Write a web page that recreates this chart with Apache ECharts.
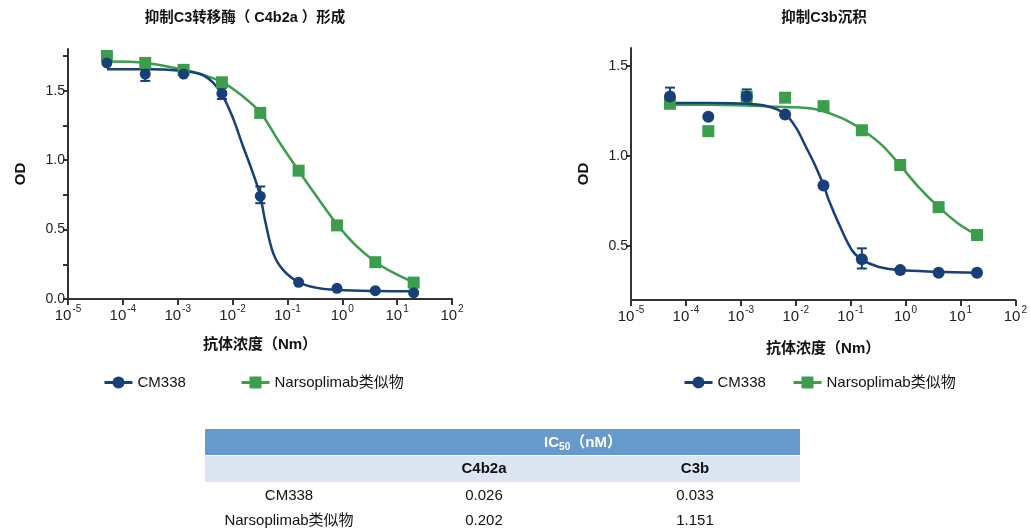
<!DOCTYPE html>
<html>
<head>
<meta charset="utf-8">
<script src="https://cdn.jsdelivr.net/npm/echarts@6/dist/echarts.min.js"></script>
<style>
html,body{margin:0;padding:0;background:#fff;}
#chart{width:1030px;height:530px;}
</style>
</head>
<body>
<div id="chart"></div>
<script>
// ---------- data ----------
const concentrations = [5.12e-5, 2.56e-4, 1.28e-3, 6.4e-3, 0.032, 0.16, 0.8, 4, 20];

const c4b2aCM338 = [1.70, 1.62, 1.62, 1.48, 0.74, 0.12, 0.077, 0.06, 0.045];
const c4b2aNarso = [1.75, 1.70, 1.65, 1.56, 1.34, 0.924, 0.53, 0.265, 0.118];
const c3bCM338 = [1.33, 1.218, 1.33, 1.23, 0.836, 0.426, 0.366, 0.351, 0.351];
const c3bNarso = [1.29, 1.138, 1.33, 1.324, 1.277, 1.143, 0.95, 0.716, 0.561];

// error bars: [concentration, low, high]
const c4b2aCM338Err = [[2.56e-4, 1.57, 1.67], [6.4e-3, 1.44, 1.52], [0.032, 0.69, 0.81]];
const c4b2aNarsoErr = [[2.56e-4, 1.68, 1.73]];
const c3bCM338Err = [[5.12e-5, 1.27, 1.38], [1.28e-3, 1.30, 1.37], [0.16, 0.375, 0.487]];

// fitted curves (log10 concentration, OD)
const c4b2aCM338CurveExp = [-4.29, -3.5, -3.0, -2.59, -2.36, -2.19, -2.0, -1.81, -1.65, -1.50, -1.41, -1.26, -1.08, -0.79, -0.46, -0.08, 0.61, 1.31];
const c4b2aCM338CurveVal = [1.655, 1.655, 1.645, 1.62, 1.56, 1.47, 1.31, 1.10, 0.93, 0.75, 0.57, 0.33, 0.21, 0.12, 0.08, 0.065, 0.057, 0.055];
const c4b2aNarsoCurveExp = [-4.29, -3.58, -2.89, -2.59, -2.18, -1.85, -1.49, -1.15, -0.79, -0.47, -0.08, 0.26, 0.61, 0.93, 1.31];
const c4b2aNarsoCurveVal = [1.71, 1.70, 1.65, 1.62, 1.56, 1.47, 1.34, 1.13, 0.92, 0.74, 0.53, 0.38, 0.265, 0.19, 0.118];
const c3bCM338CurveExp = [-4.29, -3.58, -2.89, -2.5, -2.2, -2.0, -1.82, -1.65, -1.49, -1.40, -1.22, -0.98, -0.80, -0.5, -0.1, 0.59, 1.30];
const c3bCM338CurveVal = [1.295, 1.295, 1.29, 1.275, 1.235, 1.16, 1.054, 0.95, 0.835, 0.757, 0.627, 0.478, 0.426, 0.385, 0.366, 0.357, 0.351];
const c3bNarsoCurveExp = [-4.29, -3.58, -2.89, -2.2, -1.64, -1.16, -0.80, -0.44, -0.11, 0.23, 0.59, 0.95, 1.30];
const c3bNarsoCurveVal = [1.285, 1.285, 1.28, 1.272, 1.26, 1.21, 1.147, 1.063, 0.952, 0.83, 0.72, 0.627, 0.561];

// tick labels
const xTickExponents = [-5, -4, -3, -2, -1, 0, 1, 2];
const leftYTicks = [0, 0.25, 0.5, 0.75, 1.0, 1.25, 1.5, 1.75];
const leftYLabels = [0, 0.5, 1.0, 1.5];
const rightYLabels = [0.5, 1.0, 1.5];

// texts
const titles = ['抑制C3转移酶（ C4b2a ）形成', '抑制C3b沉积'];
const seriesNames = ['CM338', 'Narsoplimab类似物'];
const xName = '抗体浓度（Nm）';
const yName = 'OD';

// table
const tableCols = ['C4b2a', 'C3b'];
const tableRowNames = ['CM338', 'Narsoplimab类似物'];
const ic50C4b2a = ['0.026', '0.202'];
const ic50C3b = ['0.033', '1.151'];

// ---------- styling ----------
const BLUE = '#173F78';
const GREEN = '#3C9E4C';
const AXIS = '#333333';
const LATIN = '"Liberation Sans", Arial, sans-serif';
const MIXED = '"Liberation Sans", "Noto Sans CJK SC", sans-serif';

function pairs(xs, ys) { return xs.map((x, i) => [x, ys[i]]); }
function curve(exps, vals) { return exps.map((e, i) => [Math.pow(10, e), vals[i]]); }

function xAxisCfg(gridIndex, nameGap) {
  return {
    type: 'log', logBase: 10, gridIndex: gridIndex,
    min: 1e-5, max: 100, splitNumber: 7,
    name: xName, nameLocation: 'middle', nameGap: nameGap,
    nameTextStyle: { fontSize: 15, fontWeight: 'bold', color: '#111', fontFamily: MIXED },
    axisLine: { lineStyle: { color: AXIS, width: 2 } },
    axisTick: { length: 6, lineStyle: { color: AXIS, width: 2 } },
    minorTick: { show: false },
    splitLine: { show: false },
    axisLabel: {
      margin: 4,
      formatter: function (v) {
        const e = Math.round(Math.log10(v));
        const idx = xTickExponents.indexOf(e);
        return '{b|10}{s|' + xTickExponents[idx] + '}';
      },
      rich: {
        b: { fontSize: 15, color: '#222', fontFamily: LATIN, lineHeight: 20, verticalAlign: 'bottom' },
        s: { fontSize: 10, color: '#222', fontFamily: LATIN, lineHeight: 20, verticalAlign: 'top', padding: [1, 0, 0, 1] }
      }
    }
  };
}

function yAxisCfg(gridIndex, min, max, tickVals, labelVals) {
  return {
    type: 'value', gridIndex: gridIndex, min: min, max: max,
    name: yName, nameLocation: 'middle', nameGap: 40, nameRotate: 90,
    nameTextStyle: { fontSize: 15, fontWeight: 'bold', color: '#111', fontFamily: LATIN },
    axisLine: { show: true, lineStyle: { color: AXIS, width: 2 } },
    axisTick: { show: true, length: 5, customValues: tickVals, lineStyle: { color: AXIS, width: 2 } },
    splitLine: { show: false },
    axisLabel: {
      margin: 3, fontSize: 14, color: '#222', fontFamily: LATIN,
      customValues: labelVals,
      formatter: function (v) { return Number(v).toFixed(1); }
    }
  };
}

function errSeries(data, color, xi, yi) {
  return {
    type: 'custom', xAxisIndex: xi, yAxisIndex: yi, z: 4,
    encode: { x: 0, y: [1, 2] },
    data: data,
    renderItem: function (params, api) {
      const x = api.value(0);
      const lo = api.coord([x, api.value(1)]);
      const hi = api.coord([x, api.value(2)]);
      const w = 5;
      const st = { stroke: color, lineWidth: 2 };
      return {
        type: 'group',
        children: [
          { type: 'line', shape: { x1: lo[0], y1: lo[1], x2: hi[0], y2: hi[1] }, style: st },
          { type: 'line', shape: { x1: lo[0] - w, y1: lo[1], x2: lo[0] + w, y2: lo[1] }, style: st },
          { type: 'line', shape: { x1: hi[0] - w, y1: hi[1], x2: hi[0] + w, y2: hi[1] }, style: st }
        ]
      };
    }
  };
}

function curveSeries(name, data, color, symbol, xi, yi) {
  return {
    type: 'line', name: name, xAxisIndex: xi, yAxisIndex: yi,
    data: data, smooth: 0.35, showSymbol: false, symbol: symbol, symbolSize: 11,
    lineStyle: { color: color, width: 2.5 }, itemStyle: { color: color },
    z: 3, silent: true
  };
}

function scatterSeries(name, data, color, symbol, size, xi, yi) {
  return {
    type: 'scatter', name: name, xAxisIndex: xi, yAxisIndex: yi,
    data: data, symbol: symbol, symbolSize: size,
    itemStyle: { color: color, opacity: 1 }, z: 5
  };
}

function legendCfg(name, left) {
  return {
    data: [name], left: left, top: 370, itemWidth: 28, itemHeight: 15, itemGap: 5,
    lineStyle: { width: 3 },
    textStyle: { fontSize: 15, color: '#111', fontFamily: MIXED, fontWeight: 'normal' },
    selectedMode: false
  };
}

const chart = echarts.init(document.getElementById('chart'), null, { renderer: 'canvas' });

const tableGraphics = [
  { type: 'rect', shape: { x: 205, y: 429, width: 595, height: 26 }, style: { fill: '#6699CC' } },
  { type: 'rect', shape: { x: 205, y: 456, width: 595, height: 26 }, style: { fill: '#DCE6F2' } },
  { type: 'text', x: 583, y: 443, style: { text: '{a|IC}{sub|50}{a|（nM）}', align: 'center', verticalAlign: 'middle',
      rich: { a: { fontSize: 15, fontWeight: 'bold', fill: '#fff', fontFamily: MIXED, lineHeight: 22, verticalAlign: 'middle' },
              sub: { fontSize: 10, fontWeight: 'bold', fill: '#fff', fontFamily: LATIN, lineHeight: 22, verticalAlign: 'bottom', padding: [0, 0, 2, 0] } } } },
  { type: 'text', x: 484, y: 469, style: { text: tableCols[0], align: 'center', verticalAlign: 'middle', fontSize: 15, fontWeight: 'bold', fill: '#111', fontFamily: LATIN } },
  { type: 'text', x: 695, y: 469, style: { text: tableCols[1], align: 'center', verticalAlign: 'middle', fontSize: 15, fontWeight: 'bold', fill: '#111', fontFamily: LATIN } }
];
const rowY = [496, 521];
tableRowNames.forEach(function (n, i) {
  tableGraphics.push({ type: 'text', x: 289, y: rowY[i], style: { text: n, align: 'center', verticalAlign: 'middle', fontSize: 15, fill: '#111', fontFamily: MIXED } });
  tableGraphics.push({ type: 'text', x: 484, y: rowY[i], style: { text: ic50C4b2a[i], align: 'center', verticalAlign: 'middle', fontSize: 15, fill: '#111', fontFamily: LATIN } });
  tableGraphics.push({ type: 'text', x: 695, y: rowY[i], style: { text: ic50C3b[i], align: 'center', verticalAlign: 'middle', fontSize: 15, fill: '#111', fontFamily: LATIN } });
});
tableGraphics.push({ type: 'text', x: 245, y: 18, style: { text: titles[0], align: 'center', verticalAlign: 'middle', fontSize: 14.5, fontWeight: 'bold', fill: '#111', fontFamily: MIXED } });
tableGraphics.push({ type: 'text', x: 824, y: 18, style: { text: titles[1], align: 'center', verticalAlign: 'middle', fontSize: 14.5, fontWeight: 'bold', fill: '#111', fontFamily: MIXED } });

const option = {
  animation: false,
  backgroundColor: '#fff',
  grid: [
    { left: 68, top: 49, width: 384, height: 250 },
    { left: 631, top: 48, width: 387, height: 252 }
  ],
  xAxis: [xAxisCfg(0, 38), xAxisCfg(1, 41)],
  yAxis: [
    yAxisCfg(0, 0, 1.8, leftYTicks, leftYLabels),
    yAxisCfg(1, 0.2, 1.6, rightYLabels, rightYLabels)
  ],
  legend: [
    legendCfg(seriesNames[0], 98),
    legendCfg(seriesNames[1], 235),
    legendCfg(seriesNames[0], 678),
    legendCfg(seriesNames[1], 787)
  ],
  graphic: tableGraphics,
  series: [
    // left chart
    curveSeries(seriesNames[1], curve(c4b2aNarsoCurveExp, c4b2aNarsoCurveVal), GREEN, 'rect', 0, 0),
    errSeries(c4b2aNarsoErr, GREEN, 0, 0),
    scatterSeries(seriesNames[1], pairs(concentrations, c4b2aNarso), GREEN, 'rect', 12, 0, 0),
    curveSeries(seriesNames[0], curve(c4b2aCM338CurveExp, c4b2aCM338CurveVal), BLUE, 'circle', 0, 0),
    errSeries(c4b2aCM338Err, BLUE, 0, 0),
    scatterSeries(seriesNames[0], pairs(concentrations, c4b2aCM338), BLUE, 'circle', 11, 0, 0),
    // right chart
    curveSeries(seriesNames[1], curve(c3bNarsoCurveExp, c3bNarsoCurveVal), GREEN, 'rect', 1, 1),
    scatterSeries(seriesNames[1], pairs(concentrations, c3bNarso), GREEN, 'rect', 12, 1, 1),
    curveSeries(seriesNames[0], curve(c3bCM338CurveExp, c3bCM338CurveVal), BLUE, 'circle', 1, 1),
    errSeries(c3bCM338Err, BLUE, 1, 1),
    scatterSeries(seriesNames[0], pairs(concentrations, c3bCM338), BLUE, 'circle', 12, 1, 1)
  ]
};
chart.setOption(option);
</script>
</body>
</html>
